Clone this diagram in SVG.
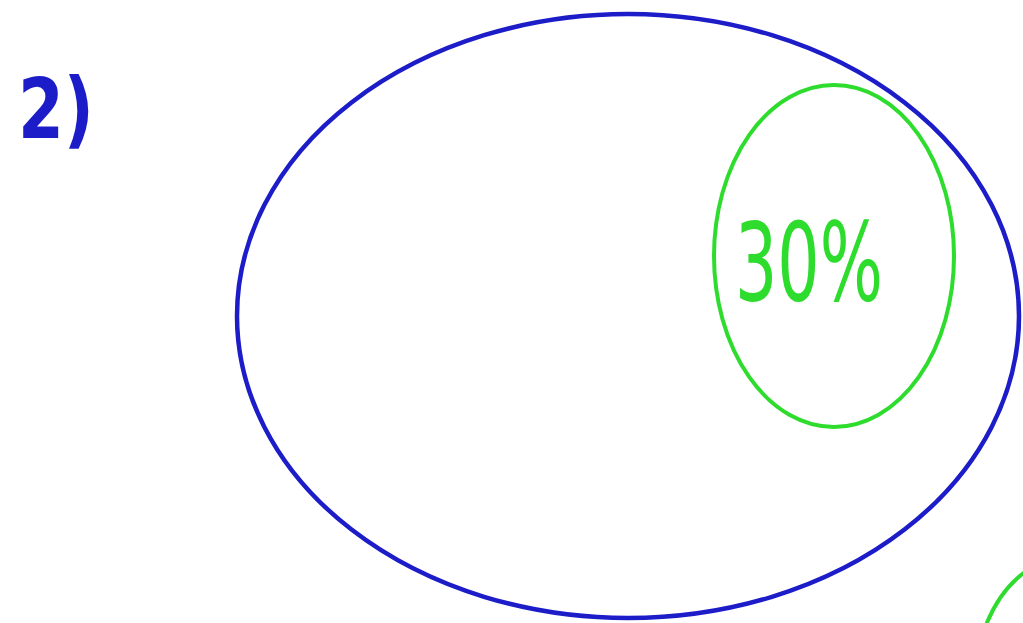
<svg xmlns="http://www.w3.org/2000/svg" width="1023" height="623" viewBox="0 0 1023 623">
<style>
.blue{fill:none;stroke:#1c1cc8;stroke-width:4.5}
.green{fill:none;stroke:#2edc2e;stroke-width:4}
.lblb{fill:#1c1cc8;font-family:"DejaVu Sans",sans-serif;font-weight:bold}
.lblg{fill:#2edc2e;font-family:"DejaVu Sans",sans-serif}
</style>
<rect width="1023" height="623" fill="#ffffff"/>
<g id="label">
<text class="lblb" x="18" y="138" font-size="84" textLength="76" lengthAdjust="spacingAndGlyphs">2)</text>
</g>
<g id="outer">
<ellipse class="blue" cx="628" cy="316" rx="391" ry="302"/>
</g>
<g id="inner">
<ellipse class="green" cx="834" cy="256" rx="120" ry="171"/>
<text class="lblg" x="735" y="300" font-size="108" textLength="148" lengthAdjust="spacingAndGlyphs">30%</text>
</g>
<g id="partial">
<path class="green" d="M986 625 Q1000 590 1025 572"/>
</g>
<g id="connectors"/>
</svg>
